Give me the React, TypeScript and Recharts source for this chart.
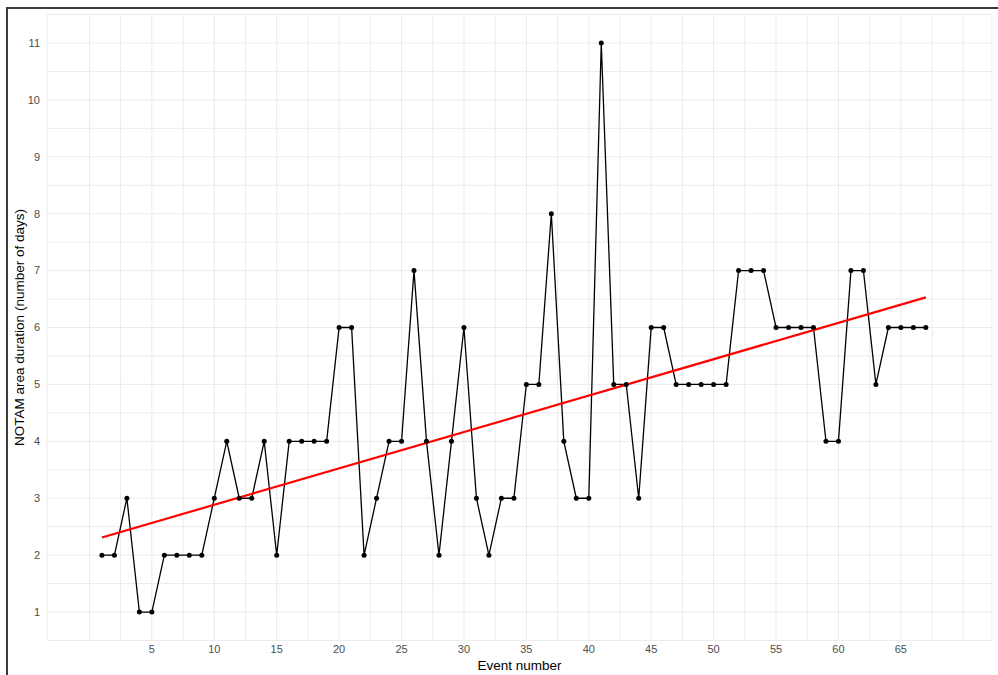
import {
  ComposedChart,
  Line,
  XAxis,
  YAxis,
  CartesianGrid,
} from 'recharts';

// NOTAM area duration per event (days)
const EVENTS = [
  1, 2, 3, 4, 5, 6, 7, 8, 9, 10, 11, 12, 13, 14, 15, 16, 17, 18, 19, 20, 21,
  22, 23, 24, 25, 26, 27, 28, 29, 30, 31, 32, 33, 34, 35, 36, 37, 38, 39, 40,
  41, 42, 43, 44, 45, 46, 47, 48, 49, 50, 51, 52, 53, 54, 55, 56, 57, 58, 59,
  60, 61, 62, 63, 64, 65, 66, 67,
];
const DURATION = [
  2, 2, 3, 1, 1, 2, 2, 2, 2, 3, 4, 3, 3, 4, 2, 4, 4, 4, 4, 6, 6,
  2, 3, 4, 4, 7, 4, 2, 4, 6, 3, 2, 3, 3, 5, 5, 8, 4, 3, 3,
  11, 5, 5, 3, 6, 6, 5, 5, 5, 5, 5, 7, 7, 7, 6, 6, 6, 6, 4,
  4, 7, 7, 5, 6, 6, 6, 6,
];

// linear trend, endpoints
const TREND_X = [1, 67];
const TREND_Y = [2.31, 6.53];

const X_TICKS = [
  0, 2.5, 5, 7.5, 10, 12.5, 15, 17.5, 20, 22.5, 25, 27.5, 30, 32.5, 35, 37.5,
  40, 42.5, 45, 47.5, 50, 52.5, 55, 57.5, 60, 62.5, 65, 67.5, 70,
];
const X_LABELS = [5, 10, 15, 20, 25, 30, 35, 40, 45, 50, 55, 60, 65];
const Y_TICKS = [
  0.5, 1, 1.5, 2, 2.5, 3, 3.5, 4, 4.5, 5, 5.5, 6, 6.5, 7, 7.5, 8, 8.5, 9, 9.5,
  10, 10.5, 11, 11.5,
];
const Y_LABELS = [1, 2, 3, 4, 5, 6, 7, 8, 9, 10, 11];

const FONT = '"Liberation Sans", Arial, sans-serif';

export default function App() {
  const data = EVENTS.map((e, i) => ({ x: e, y: DURATION[i] }));
  const trend = TREND_X.map((x, i) => ({ x, t: TREND_Y[i] }));

  return (
    <div
      style={{
        position: 'absolute',
        left: 0,
        top: 0,
        width: 998,
        height: 675,
        background: '#fff',
        fontFamily: FONT,
        overflow: 'hidden',
      }}
    >
      <div
        style={{
          position: 'absolute',
          left: 6,
          top: 7,
          width: 1000,
          height: 700,
          borderLeft: '2px solid #3a3a3a',
          borderTop: '2px solid #3a3a3a',
        }}
      />
      <ComposedChart
        width={998}
        height={675}
        margin={{ top: 14.5, right: 6, bottom: 0.5, left: 0 }}
        style={{ position: 'absolute', left: 0, top: 0 }}
      >
        <CartesianGrid stroke="#ebebeb" strokeWidth={1} />
        <XAxis
          dataKey="x"
          type="number"
          domain={[-3.4, 72.3]}
          ticks={X_TICKS}
          allowDataOverflow
          interval={0}
          height={34}
          axisLine={false}
          tickLine={false}
          tickSize={0}
          tickMargin={5}
          tick={{ fontSize: 11, fill: '#4d4d4d', fontFamily: FONT }}
          tickFormatter={(v: number) => (X_LABELS.includes(v) ? String(v) : '')}
          label={{
            value: 'Event number',
            position: 'insideBottom',
            offset: 5,
            style: { fontSize: 13.5, fill: '#000', fontFamily: FONT },
          }}
        />
        <YAxis
          type="number"
          domain={[0.5, 11.5]}
          ticks={Y_TICKS}
          allowDataOverflow
          interval={0}
          width={47}
          axisLine={false}
          tickLine={false}
          tickSize={0}
          tickMargin={7}
          tick={{ fontSize: 11, fill: '#4d4d4d', fontFamily: FONT }}
          tickFormatter={(v: number) => (Y_LABELS.includes(v) ? String(v) : '')}
          label={{
            value: 'NOTAM area duration (number of days)',
            angle: -90,
            position: 'insideLeft',
            offset: 19,
            style: {
              fontSize: 13.5,
              fill: '#000',
              fontFamily: FONT,
              textAnchor: 'middle',
            },
          }}
        />
        <Line
          data={data}
          dataKey="y"
          type="linear"
          stroke="#000"
          strokeWidth={1.3}
          dot={{ r: 2.5, fill: '#000', stroke: 'none' }}
          activeDot={false}
          isAnimationActive={false}
        />
        <Line
          data={trend}
          dataKey="t"
          type="linear"
          stroke="#ff0000"
          strokeWidth={2.2}
          dot={false}
          activeDot={false}
          isAnimationActive={false}
        />
      </ComposedChart>
    </div>
  );
}
